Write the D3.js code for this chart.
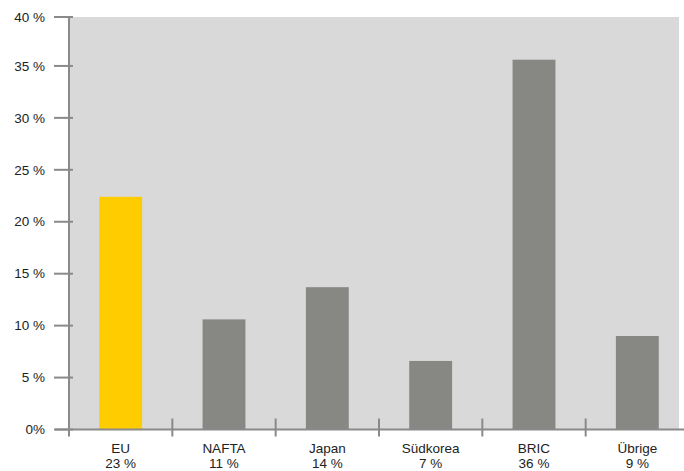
<!DOCTYPE html>
<html>
<head>
<meta charset="utf-8">
<script src="https://cdn.jsdelivr.net/npm/d3@7/dist/d3.min.js"></script>
<style>
  html, body { margin: 0; padding: 0; background: #ffffff; }
  svg { display: block; }
</style>
</head>
<body>
<div id="chart"></div>
<script>
// ---- data ----
const categories = ["EU", "NAFTA", "Japan", "Südkorea", "BRIC", "Übrige"];
const shareLabels = ["23 %", "11 %", "14 %", "7 %", "36 %", "9 %"];
const values = [22.4, 10.6, 13.7, 6.6, 35.6, 9.0];
const highlight = ["EU"];
const yTicks = [0, 5, 10, 15, 20, 25, 30, 35, 40];
const yTickLabels = ["0%", "5 %", "10 %", "15 %", "20 %", "25 %", "30 %", "35 %", "40 %"];

// ---- layout ----
const W = 684, H = 471;
const axisX = 69, plotRight = 679;
const svg = d3.select("#chart").append("svg").attr("width", W).attr("height", H);

const y = d3.scaleLinear().domain([0, 40]).range([429.5, 14]);
const x = d3.scaleBand().domain(categories).range([69, 689])
  .paddingInner(0.585).paddingOuter(0.2925);

const axisColor = "#8a8a8a";

// background
svg.append("rect")
  .attr("x", axisX).attr("y", y(40) + 3)
  .attr("width", plotRight - axisX).attr("height", y(0) - y(40) - 3)
  .attr("fill", "#d9d9d9");

// bars
svg.selectAll("rect.bar").data(categories).enter().append("rect")
  .attr("class", "bar")
  .attr("x", d => x(d))
  .attr("width", x.bandwidth())
  .attr("y", (d, i) => y(values[i]))
  .attr("height", (d, i) => y(0) - y(values[i]))
  .attr("fill", d => highlight.includes(d) ? "#ffcc00" : "#878784");

// y axis line
svg.append("line")
  .attr("x1", axisX).attr("x2", axisX)
  .attr("y1", y(40) + 3).attr("y2", y(0) + 7)
  .attr("stroke", axisColor).attr("stroke-width", 2);

// baseline
svg.append("line")
  .attr("x1", 55).attr("x2", W)
  .attr("y1", y(0)).attr("y2", y(0))
  .attr("stroke", axisColor).attr("stroke-width", 2);

// y ticks + labels
const yg = svg.append("g");
yTicks.forEach((t, i) => {
  const yy = i === yTicks.length - 1 ? y(t) + 3 : y(t);
  yg.append("line")
    .attr("x1", 54).attr("x2", 73)
    .attr("y1", yy).attr("y2", yy)
    .attr("stroke", axisColor).attr("stroke-width", 2);
  yg.append("text")
    .attr("x", 45).attr("y", yy)
    .attr("dy", "0.35em")
    .attr("text-anchor", "end")
    .attr("font-family", "Liberation Sans, Arial, sans-serif")
    .attr("font-size", 13.5)
    .attr("fill", "#222")
    .text(yTickLabels[i]);
});

// x category boundary ticks
const step = x.step();
const boundaries = categories.slice(1).map(c => x(c) - x.paddingInner() * step / 2);
svg.selectAll("line.xt").data(boundaries).enter().append("line")
  .attr("x1", d => d).attr("x2", d => d)
  .attr("y1", y(0) - 11).attr("y2", y(0) + 7)
  .attr("stroke", axisColor).attr("stroke-width", 2);

// x labels
const xl = svg.append("g")
  .attr("font-family", "Liberation Sans, Arial, sans-serif")
  .attr("font-size", 13.5)
  .attr("fill", "#222")
  .attr("text-anchor", "middle");
categories.forEach((c, i) => {
  const cx = x(c) + x.bandwidth() / 2;
  xl.append("text").attr("x", cx).attr("y", 452.5).text(c);
  xl.append("text").attr("x", cx).attr("y", 468).text(shareLabels[i]);
});
</script>
</body>
</html>
